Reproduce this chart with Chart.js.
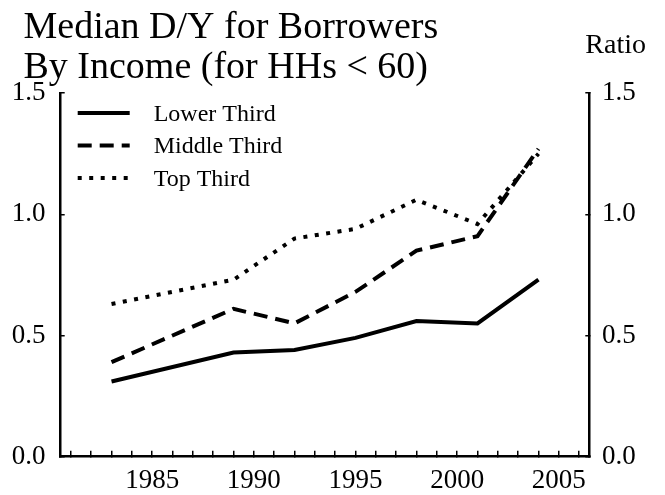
<!DOCTYPE html>
<html>
<head>
<meta charset="utf-8">
<script src="https://cdn.jsdelivr.net/npm/chart.js@4.4.1/dist/chart.umd.min.js"></script>
<style>
  html, body { margin: 0; padding: 0; background: #fff; }
  canvas { display: block; }
</style>
</head>
<body>
<canvas id="c" width="665" height="495"></canvas>
<script>
// ---- Data ----
const years = [1983, 1989, 1992, 1995, 1998, 2001, 2004];
const lowerThird  = [0.31, 0.43, 0.44, 0.49, 0.56, 0.55, 0.73];
const middleThird = [0.39, 0.61, 0.55, 0.68, 0.85, 0.91, 1.27];
const topThird    = [0.63, 0.73, 0.90, 0.94, 1.06, 0.96, 1.25];
const seriesNames = ['Lower Third', 'Middle Third', 'Top Third'];
const titleLines = ['Median D/Y for Borrowers', 'By Income (for HHs < 60)'];
const unitLabel = 'Ratio';
const yTickValues = [0, 0.5, 1.0, 1.5];
const xTickYears = [1981, 1982, 1983, 1984, 1985, 1986, 1987, 1988, 1989, 1990,
                    1991, 1992, 1993, 1994, 1995, 1996, 1997, 1998, 1999, 2000,
                    2001, 2002, 2003, 2004, 2005, 2006];
const xLabelYears = [1985, 1990, 1995, 2000, 2005];

const FONT = '"Liberation Serif", "Times New Roman", Times, serif';

const toPoints = vals => years.map((yr, i) => ({ x: yr, y: vals[i] }));

const lineStyle = {
  borderColor: '#000',
  borderWidth: 4,
  pointRadius: 0,
  tension: 0,
  fill: false,
  borderCapStyle: 'butt',
  borderJoinStyle: 'miter',
  yAxisID: 'y'
};

// Title, legend and unit label drawn on the canvas
const extras = {
  id: 'extras',
  afterDraw(chart) {
    const ctx = chart.ctx;
    const ca = chart.chartArea;
    ctx.save();
    ctx.fillStyle = '#000';
    ctx.textAlign = 'left';
    ctx.textBaseline = 'alphabetic';

    ctx.font = '38px ' + FONT;
    titleLines.forEach((t, i) => ctx.fillText(t, 23.5, 37.5 + i * 40));

    ctx.font = '28px ' + FONT;
    ctx.fillText(unitLabel, ca.right - 4, 53);

    ctx.font = '24px ' + FONT;
    ctx.textBaseline = 'middle';
    chart.data.datasets.forEach((ds, i) => {
      const y = ca.top + 20 + i * 32.5;
      ctx.beginPath();
      ctx.setLineDash(ds.borderDash || []);
      ctx.lineWidth = ds.borderWidth;
      ctx.strokeStyle = ds.borderColor;
      ctx.lineCap = 'butt';
      ctx.moveTo(ca.left + 17, y);
      ctx.lineTo(ca.left + 69, y);
      ctx.stroke();
      ctx.setLineDash([]);
      ctx.fillText(ds.label, ca.left + 93, y + 1.5);
    });
    ctx.restore();
  }
};

const yScaleBase = (position, padding, width) => ({
  type: 'linear',
  position: position,
  min: 0,
  max: 1.5,
  afterBuildTicks: s => { s.ticks = yTickValues.map(v => ({ value: v })); },
  afterFit: s => { s.width = width; },
  ticks: {
    color: '#000',
    padding: padding,
    font: { family: FONT, size: 27 },
    callback: v => Number(v).toFixed(1)
  },
  grid: { drawOnChartArea: false, drawTicks: true, tickLength: -4, color: '#000', lineWidth: 1.5 },
  border: { display: true, color: '#000', width: 2.5 }
});

new Chart(document.getElementById('c'), {
  type: 'line',
  data: {
    datasets: [
      Object.assign({}, lineStyle, { label: seriesNames[0], data: toPoints(lowerThird), borderDash: [] }),
      Object.assign({}, lineStyle, { label: seriesNames[1], data: toPoints(middleThird), borderDash: [14, 8] }),
      Object.assign({}, lineStyle, { label: seriesNames[2], data: toPoints(topThird), borderDash: [4, 7.5] })
    ]
  },
  options: {
    responsive: false,
    animation: false,
    layout: { padding: { left: 0, right: 0, top: 93.1, bottom: 0 } },
    plugins: {
      legend: { display: false },
      tooltip: { enabled: false },
      title: { display: false }
    },
    scales: {
      x: {
        type: 'linear',
        position: 'bottom',
        min: 1980.5,
        max: 2006.5,
        afterBuildTicks: s => { s.ticks = xTickYears.map(v => ({ value: v })); },
        afterFit: s => { s.height = 38.3; },
        ticks: {
          autoSkip: false,
          maxRotation: 0,
          minRotation: 0,
          padding: 14,
          color: '#000',
          font: { family: FONT, size: 27 },
          callback: v => (xLabelYears.includes(v) ? String(v) : '')
        },
        grid: { drawOnChartArea: false, drawTicks: true, tickLength: -6, color: '#000', lineWidth: 1.5 },
        border: { display: true, color: '#000', width: 2.5 }
      },
      y: yScaleBase('left', 19.1, 60.7),
      y2: yScaleBase('right', 16.8, 75.7)
    }
  },
  plugins: [extras]
});
</script>
</body>
</html>
